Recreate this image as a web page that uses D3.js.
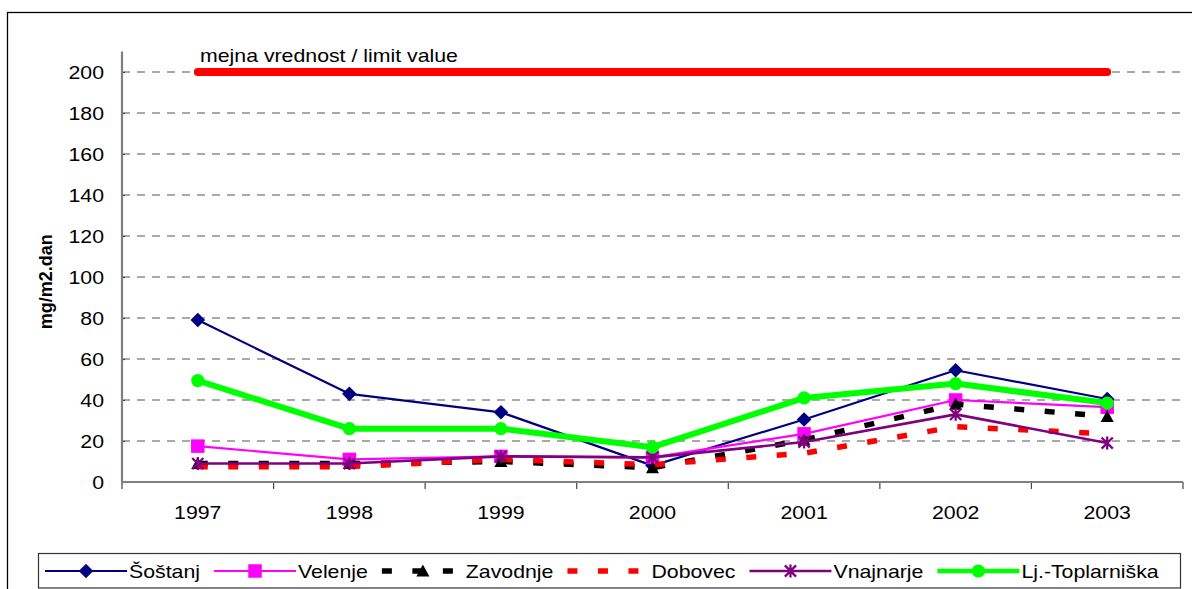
<!DOCTYPE html>
<html>
<head>
<meta charset="utf-8">
<script src="https://cdn.jsdelivr.net/npm/d3@7"></script>
<style>
  body { margin: 0; background: #fff; }
  svg { display: block; }
  text { font-family: "Liberation Sans", Arial, sans-serif; fill: #000; }
</style>
</head>
<body>
<svg id="chart" width="1192" height="589"></svg>
<script>
// Annual deposition per measuring station, mg/m2.dan
const years = ["1997", "1998", "1999", "2000", "2001", "2002", "2003"];
const sostanj     = [79, 43, 34, 8, 30.5, 54.5, 40.5];
const velenje     = [17.5, 11, 12.5, 12, 23.5, 40, 36.5];
const zavodnje    = [9, 9, 10, 7, 20.5, 38, 32];
const dobovec     = [7.5, 7.5, 11, 8.5, 14, 27, 23.5];
const vnajnarje   = [9, 9, 12.5, 12, 19.5, 33, 19];
const toplarniska = [49.5, 26, 26, 17, 41, 48, 38.5];
const limitValue  = 200;
const limitLabel  = "mejna vrednost / limit value";
const yTicks      = [0, 20, 40, 60, 80, 100, 120, 140, 160, 180, 200];
const yMax        = 210;
const yTitle      = "mg/m2.dan";
const seriesNames = ["Šoštanj", "Velenje", "Zavodnje", "Dobovec", "Vnajnarje", "Lj.-Toplarniška"];

// Drawing styles for each series (same order as seriesNames)
const seriesValues = [sostanj, velenje, zavodnje, dobovec, vnajnarje, toplarniska];
const styles = [
  { color: "#000080", width: 2.2, dash: null,    marker: "diamond" },
  { color: "#ff00ff", width: 2.2, dash: null,    marker: "square" },
  { color: "#000000", width: 5.5, dash: "10,20.5", marker: "triangle" },
  { color: "#ff0000", width: 5.5, dash: "10,20.5", marker: null },
  { color: "#800080", width: 2.6, dash: null,    marker: "asterisk" },
  { color: "#00ff00", width: 6,   dash: null,    marker: "circle" }
];

const FONT = 18.6, SX = 1.145;   // text is slightly wide
const svg = d3.select("#chart");

const plot = { left: 122, right: 1183, top: 51.5, bottom: 482 };
const x = d3.scaleBand().domain(years).range([plot.left, plot.right]).padding(0);
const cx = d => x(d) + x.bandwidth() / 2;
const y = d3.scaleLinear().domain([0, yMax]).range([plot.bottom, plot.top]);

function addText(g, tx, ty, str, anchor, opts = {}) {
  return g.append("text")
    .attr("transform", `translate(${tx},${ty}) scale(${opts.sx || SX},1)`)
    .attr("text-anchor", anchor)
    .style("font-size", (opts.size || FONT) + "px")
    .style("font-weight", opts.weight || "normal")
    .text(str);
}

// Outer chart frame (runs off the right and bottom edge)
svg.append("rect")
  .attr("x", 7.5).attr("y", 12.5).attr("width", 1300).attr("height", 700)
  .attr("fill", "none").attr("stroke", "#000").attr("stroke-width", 1.3);

// Horizontal gridlines
svg.append("g").selectAll("line")
  .data(yTicks.filter(t => t > 0))
  .join("line")
  .attr("x1", plot.left).attr("x2", plot.right)
  .attr("y1", d => y(d)).attr("y2", d => y(d))
  .attr("stroke", "#555").attr("stroke-width", 1.2)
  .attr("stroke-dasharray", "8,7");

// Y axis
const yAxis = svg.append("g").attr("transform", `translate(${plot.left},0)`)
  .call(d3.axisLeft(y).tickValues(yTicks).tickSize(7).tickFormat(""));
yAxis.select(".domain").remove();
yAxis.selectAll(".tick line").attr("stroke", "#444").attr("stroke-width", 1.2).attr("x2", 3);
svg.append("line")
  .attr("x1", plot.left).attr("x2", plot.left)
  .attr("y1", y(yMax)).attr("y2", plot.bottom)
  .attr("stroke", "#808080").attr("stroke-width", 2.2);
const yLab = svg.append("g");
yTicks.forEach(t => addText(yLab, 104, y(t) + 6.7, String(t), "end"));

// Y title
svg.append("text")
  .attr("transform", `translate(52,${(plot.top + plot.bottom) / 2 + 15}) rotate(-90)`)
  .attr("text-anchor", "middle")
  .style("font-size", "18px").style("font-weight", "bold")
  .text(yTitle);

// X axis with ticks on category boundaries
const xAxis = svg.append("g").attr("transform", `translate(0,${plot.bottom})`)
  .call(d3.axisBottom(x).tickSize(0).tickFormat(""));
xAxis.select(".domain").remove();
const bounds = years.map(d => x(d)).concat([plot.right]);
svg.append("g").selectAll("line").data(bounds).join("line")
  .attr("x1", d => d).attr("x2", d => d)
  .attr("y1", plot.bottom).attr("y2", plot.bottom + 7)
  .attr("stroke", "#444").attr("stroke-width", 1.2);
svg.append("line")
  .attr("x1", plot.left - 1).attr("x2", plot.right)
  .attr("y1", plot.bottom).attr("y2", plot.bottom)
  .attr("stroke", "#808080").attr("stroke-width", 2.2);
const xLab = svg.append("g");
years.forEach(d => addText(xLab, cx(d), 518.5, d, "middle"));

// Limit value line and its label
svg.append("line")
  .attr("x1", cx(years[0])).attr("x2", cx(years[years.length - 1]))
  .attr("y1", y(limitValue)).attr("y2", y(limitValue))
  .attr("stroke", "#ff0000").attr("stroke-width", 7.8).attr("stroke-linecap", "round");
addText(svg, 200, 62, limitLabel, "start");

// Marker painter
function drawMarker(g, type, px, py, color) {
  if (type === "diamond") {
    const r = 7.3;
    g.append("path").attr("d", `M${px},${py - r}L${px + r},${py}L${px},${py + r}L${px - r},${py}Z`).attr("fill", color);
  } else if (type === "square") {
    const s = 13.5;
    g.append("rect").attr("x", px - s / 2).attr("y", py - s / 2).attr("width", s).attr("height", s).attr("fill", color);
  } else if (type === "triangle") {
    const s = 6.5;
    g.append("path").attr("d", `M${px},${py - s}L${px + s},${py + s * 0.85}L${px - s},${py + s * 0.85}Z`).attr("fill", color);
  } else if (type === "circle") {
    g.append("circle").attr("cx", px).attr("cy", py).attr("r", 6.6).attr("fill", color);
  } else if (type === "asterisk") {
    const r = 6.5, d = 5.6;
    g.append("path")
      .attr("d", `M${px},${py - r}V${py + r}M${px - d},${py - d}L${px + d},${py + d}M${px + d},${py - d}L${px - d},${py + d}`)
      .attr("stroke", color).attr("stroke-width", 2.3).attr("fill", "none");
  }
}

// Series lines and markers
const line = d3.line().x((d, i) => cx(years[i])).y(d => y(d));
seriesValues.forEach((vals, k) => {
  const st = styles[k];
  const g = svg.append("g");
  g.append("path").datum(vals).attr("d", line)
    .attr("fill", "none").attr("stroke", st.color).attr("stroke-width", st.width)
    .attr("stroke-dasharray", st.dash).attr("stroke-linejoin", "round");
  if (st.marker) vals.forEach((v, i) => drawMarker(g, st.marker, cx(years[i]), y(v), st.color));
});

// Legend
svg.append("rect")
  .attr("x", 38.5).attr("y", 553.5).attr("width", 1142).attr("height", 34.5)
  .attr("fill", "#fff").attr("stroke", "#333").attr("stroke-width", 1.2);
const lg = svg.append("g");
let lx = 45;
const ly = 571;
seriesNames.forEach((name, k) => {
  const st = styles[k];
  lg.append("line").attr("x1", lx).attr("x2", lx + 82).attr("y1", ly).attr("y2", ly)
    .attr("stroke", st.color).attr("stroke-width", st.dash ? 5.5 : Math.min(st.width, 4.5))
    .attr("stroke-dasharray", st.dash);
  if (st.marker) drawMarker(lg, st.marker, lx + 41, ly, st.color);
  const t = addText(lg, lx + 84, ly + 7, name, "start");
  lx = lx + 84 + t.node().getComputedTextLength() * SX + 14;
});
</script>
</body>
</html>
